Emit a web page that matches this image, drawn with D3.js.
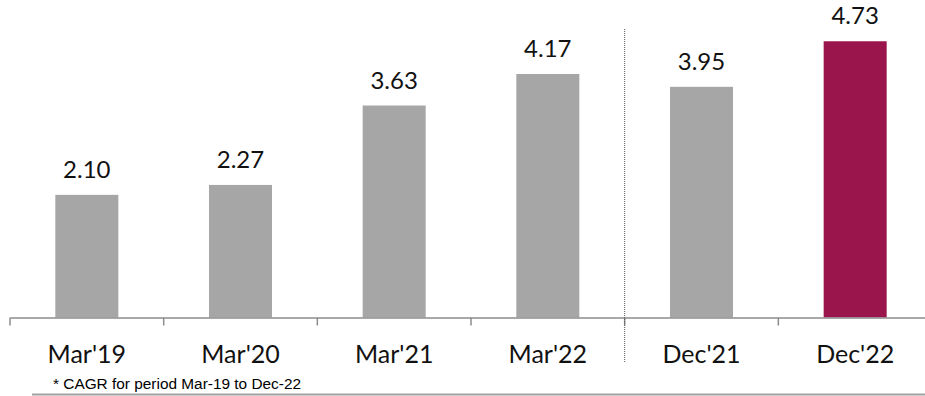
<!DOCTYPE html>
<html><head><meta charset="utf-8">
<script src="https://cdn.jsdelivr.net/npm/d3@7"></script>
<style>body{margin:0;background:#fff;}svg{display:block;}</style>
</head><body>
<svg id="chart" width="925" height="396"></svg>
<script>
const categories = ["Mar'19","Mar'20","Mar'21","Mar'22","Dec'21","Dec'22"];
const values = [2.10, 2.27, 3.63, 4.17, 3.95, 4.73];
const valueLabels = ["2.10","2.27","3.63","4.17","3.95","4.73"];
const highlight = ["Dec'22"];
const footnote = "* CAGR for period Mar-19 to Dec-22";

const svg = d3.select("#chart");
const baseY = 317.5;
const x = d3.scaleBand().domain(categories).range([10, 932]).paddingInner(0.59).paddingOuter(0.295);
const y = d3.scaleLinear().domain([0, 5]).range([baseY, baseY - 5 * 58.4]);
const step = x.step();
const font = "Lato, Calibri, Carlito, sans-serif";

// bars
svg.selectAll("rect.bar").data(categories).enter().append("rect")
  .attr("x", d => x(d)).attr("width", x.bandwidth())
  .attr("y", (d,i) => y(values[i])).attr("height", (d,i) => baseY - y(values[i]))
  .attr("fill", d => highlight.includes(d) ? "#99154B" : "#A6A6A6");

// value labels
svg.selectAll("text.val").data(categories).enter().append("text")
  .attr("x", d => x(d) + x.bandwidth()/2)
  .attr("y", (d,i) => y(values[i]) - 17)
  .attr("text-anchor","middle").attr("font-family", font).attr("font-size", 24).attr("fill","#111")
  .text((d,i) => valueLabels[i]);

// axis
const axis = d3.axisBottom(x).tickSize(0).tickPadding(0);
const g = svg.append("g").attr("transform", `translate(0,${baseY})`).call(axis);
g.select(".domain").attr("stroke","#8C8C8C").attr("stroke-width",1.5);
g.selectAll(".tick text").attr("font-family", font).attr("font-size", 25).attr("fill","#111")
  .attr("dy", null).attr("y", 45);

// boundary ticks
const bounds = categories.map(d => x(d) - step * x.paddingInner() / 2).concat([x(categories[categories.length-1]) + x.bandwidth() + step*x.paddingInner()/2]);
svg.selectAll("line.tk").data(bounds).enter().append("line")
  .attr("x1", d => d).attr("x2", d => d).attr("y1", baseY).attr("y2", baseY + 8)
  .attr("stroke","#8C8C8C").attr("stroke-width",1.5);

// dotted separator
const sepX = x("Dec'21") - step * x.paddingInner() / 2;
svg.append("line").attr("x1", sepX).attr("x2", sepX).attr("y1", 29).attr("y2", 362)
  .attr("stroke","#555").attr("stroke-width",1).attr("stroke-dasharray","1,1");

// footnote
svg.append("text").attr("x", 53).attr("y", 389)
  .attr("font-family","Liberation Sans, Arial, sans-serif").attr("font-size", 15.4).attr("fill","#000")
  .text(footnote);
svg.append("line").attr("x1", 32).attr("x2", 925).attr("y1", 394.5).attr("y2", 394.5)
  .attr("stroke","#A0A0A0").attr("stroke-width",2);
</script>
</body></html>
